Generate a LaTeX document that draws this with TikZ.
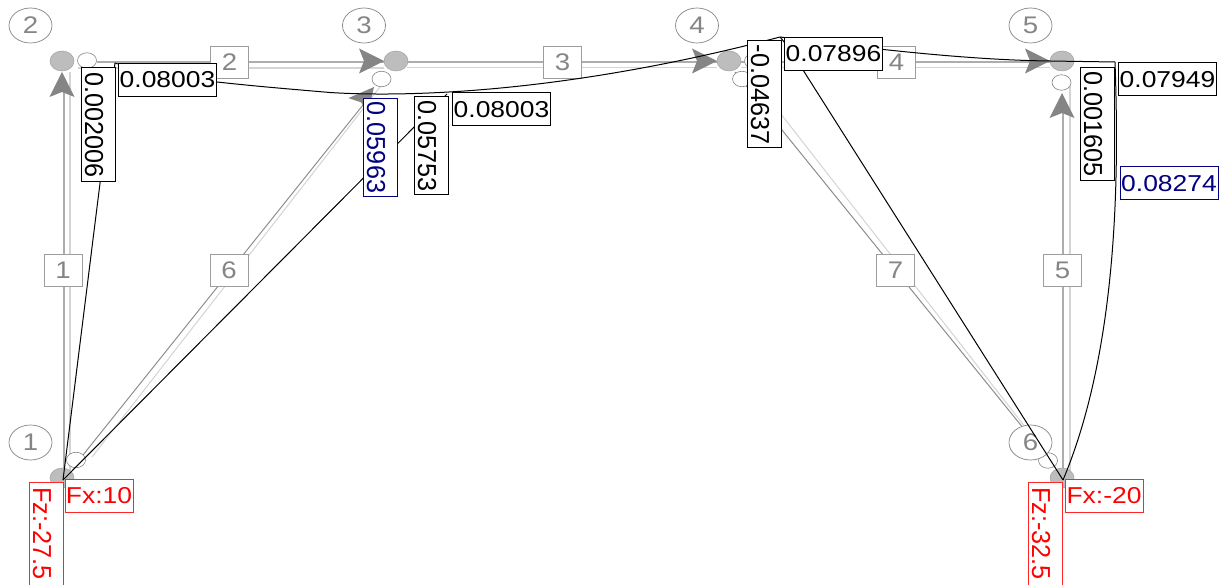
\documentclass[tikz,border=0pt]{standalone}
\usepackage{graphicx}
\usepackage{fontspec}
\setmainfont{Liberation Sans}
\usetikzlibrary{shapes.geometric}
\definecolor{memdark}{HTML}{ADADAD}
\definecolor{memlight}{HTML}{D4D4D4}
\definecolor{diag}{HTML}{8C8C8C}
\definecolor{numgray}{HTML}{858585}
\definecolor{nodegray}{HTML}{BDBDBD}
\definecolor{navyval}{HTML}{000080}
\newcommand{\wideh}[1]{\scalebox{1.15}[1]{\fontsize{23}{25}\selectfont #1}}
\newcommand{\widev}[1]{\raisebox{-13pt}[7pt][7pt]{\scalebox{0.97}[1]{\fontsize{26}{28}\selectfont #1}}}
\newcommand{\widen}[1]{\scalebox{1.15}[1]{\fontsize{24}{26}\selectfont #1}}
\newcommand{\garrow}[3]{\fill[arrowfill,shift={(#1,#2)},rotate=#3] (0,0)--(-25,-12.5)--(-20,0)--(-25,12.5)--cycle;}
\tikzset{
  memberdark/.style={draw=memdark,line width=2pt},
  memberlight/.style={draw=memlight,line width=1.5pt},
  diagthin/.style={draw=diag,line width=1pt},
  diaglight/.style={draw=memlight,line width=1pt},
  arrowfill/.style={fill=numgray},
  joint/.style={ellipse,draw=nodegray!85!black,line width=.5pt,fill=nodegray,minimum width=24pt,minimum height=20pt,inner sep=0pt},
  endmark/.style={ellipse,draw=numgray,line width=.6pt,fill=white,minimum width=19pt,minimum height=15.5pt,inner sep=0pt},
  jointnum/.style={ellipse,draw=numgray,line width=.7pt,fill=white,text=numgray,minimum width=43pt,minimum height=35pt,inner sep=0pt},
  membox/.style={rectangle,draw=numgray!80,line width=.8pt,fill=white,text=numgray,minimum width=38pt,minimum height=32pt,inner sep=0pt},
  hval/.style={rectangle,draw=black,line width=1pt,fill=white,text=black,minimum width=98pt,minimum height=33pt,inner sep=0pt},
  vval/.style={rectangle,rotate=-90,draw=black,line width=1pt,fill=white,text=black,minimum height=34pt,inner sep=0pt},
  blueedge/.style={draw=navyval,text=navyval},
  force/.style={rectangle,draw=red!85,line width=1pt,fill=white,text=red,minimum height=33pt,inner sep=0pt},
  curveline/.style={draw=black,line width=1pt},
}
\begin{document}
\begin{tikzpicture}[x=1pt,y=-1pt]
\useasboundingbox (0,0) rectangle (1230,585);
% joint positions
\coordinate (p1) at (62,478);
\coordinate (p2) at (62,61);
\coordinate (p3) at (396,61);
\coordinate (p4) at (729,61);
\coordinate (p5) at (1062,61);
\coordinate (p6) at (1062,478);
% member ends
\coordinate (m1a) at (63.5,478); \coordinate (m1b) at (63.5,90);
\coordinate (m1c) at (70,478);   \coordinate (m1d) at (70,72);
\coordinate (m2a) at (97,62);    \coordinate (m2b) at (384,62);
\coordinate (m2c) at (78,68);    \coordinate (m2d) at (384,68);
\coordinate (m3a) at (407,62);   \coordinate (m3b) at (717,62);
\coordinate (m3c) at (407,67.5); \coordinate (m3d) at (717,67.5);
\coordinate (m4a) at (741,62);   \coordinate (m4b) at (1050,62);
\coordinate (m4c) at (741,67.5); \coordinate (m4d) at (1050,67.5);
\coordinate (m5a) at (1063,478); \coordinate (m5b) at (1063,110);
\coordinate (m5c) at (1070,478); \coordinate (m5d) at (1070,85);
\coordinate (m6a) at (83,455);   \coordinate (m6b) at (367,100);
\coordinate (m6c) at (92,457);   \coordinate (m6d) at (380,87);
\coordinate (m7a) at (735,72);   \coordinate (m7b) at (1045,455);
\coordinate (m7c) at (752,77);   \coordinate (m7d) at (1047,455);
% members
\draw[memberdark] (m1a) -- (m1b);
\draw[memberlight] (m1c) -- (m1d);
\draw[memberdark] (m2a) -- (m2b);
\draw[memberlight] (m2c) -- (m2d);
\draw[memberdark] (m3a) -- (m3b);
\draw[memberlight] (m3c) -- (m3d);
\draw[memberdark] (m4a) -- (m4b);
\draw[memberlight] (m4c) -- (m4d);
\draw[memberdark] (m5a) -- (m5b);
\draw[memberlight] (m5c) -- (m5d);
\draw[diagthin] (m6a) -- (m6b);
\draw[diaglight] (m6c) -- (m6d);
\draw[diagthin] (m7a) -- (m7b);
\draw[diaglight] (m7c) -- (m7d);
% arrowheads
\garrow{62}{72}{90}
\garrow{384}{61}{0}
\garrow{717}{61}{0}
\garrow{1050}{61}{0}
\garrow{1062}{93}{90}
\garrow{374}{87}{50}
% joints
\node[joint] (J1) at (p1) {};
\node[joint] (J2) at (p2) {};
\node[joint] (J3) at (p3) {};
\node[joint] (J4) at (p4) {};
\node[joint] (J5) at (p5) {};
\node[joint] (J6) at (p6) {};
% member-end marks
\node[endmark] (E1) at (87,60.5) {};
\node[endmark] (E2) at (381.5,79) {};
\node[endmark] (E3) at (742,79) {};
\node[endmark] (E4) at (754,61) {};
\node[endmark] (E5) at (1061.5,82.5) {};
\node[endmark] (E6) at (76,460) {};
\node[endmark] (E7) at (1048,460.5) {};
% joint numbers
\node[jointnum] (N1) at (30.5,442.5) {\widen{1}};
\node[jointnum] (N2) at (30.5,25.5) {\widen{2}};
\node[jointnum] (N3) at (364,25.5) {\widen{3}};
\node[jointnum] (N4) at (697,25.5) {\widen{4}};
\node[jointnum] (N5) at (1030.5,25.5) {\widen{5}};
\node[jointnum] (N6) at (1030.5,442.5) {\widen{6}};
% member numbers
\node[membox] (B1) at (63,270.5) {\widen{1}};
\node[membox] (B2) at (229.5,62) {\widen{2}};
\node[membox] (B3) at (562.5,62) {\widen{3}};
\node[membox] (B4) at (896.5,62) {\widen{4}};
\node[membox] (B5) at (1062.5,270.5) {\widen{5}};
\node[membox] (B6) at (229,270.5) {\widen{6}};
\node[membox] (B7) at (895.5,270.5) {\widen{7}};
% moment-diagram lines
\coordinate (b1) at (63,480);
\coordinate (b6) at (1063,480);
\coordinate (c2) at (115,63);
\coordinate (c3) at (447,94);
\coordinate (c4) at (780,37);
\coordinate (c5) at (1115,62);
\draw[curveline] (b1) -- (c2);
\draw[curveline] (b1) -- (c3);
\draw[curveline] (c2) .. controls (160,78) and (230,84) .. (330,92.5) .. controls (400,97) and (560,95) .. (c4);
\draw[curveline] (c4) -- (785,43);
\draw[curveline] (c4) .. controls (850,46) and (960,60) .. (1050,61) -- (c5);
\draw[curveline] (c5) .. controls (1118,150) and (1122,340) .. (b6);
\draw[curveline] (803,70) -- (b6);
% values
\node[hval] (V1) at (167.5,80) {\wideh{0.08003}};
\node[hval] (V2) at (501.5,109.5) {\wideh{0.08003}};
\node[hval] (V3) at (833.5,54) {\wideh{0.07896}};
\node[hval] (V4) at (1167.5,79.5) {\wideh{0.07949}};
\node[hval,blueedge] (V5) at (1169,183.5) {\wideh{0.08274}};
\node[vval,minimum width=114pt] (W1) at (98,125) {\widev{0.002006}};
\node[vval,minimum width=98pt,blueedge] (W2) at (380,147.5) {\widev{0.05963}};
\node[vval,minimum width=98pt] (W3) at (431,146) {\widev{0.05753}};
\node[vval,minimum width=107pt] (W4) at (764,94.5) {\widev{-0.04637}};
\node[vval,minimum width=113pt] (W5) at (1097,124) {\widev{0.001605}};
% reactions
\node[force,minimum width=68pt] (F1) at (99,495.5) {\wideh{Fx:10}};
\node[force,minimum width=78pt] (F2) at (1104,495.5) {\wideh{Fx:-20}};
\node[force,rotate=-90,minimum width=103pt,minimum height=34pt] (F3) at (46,533.5) {\widev{Fz:-27.5}};
\node[force,rotate=-90,minimum width=103pt,minimum height=34pt] (F4) at (1045,533.5) {\widev{Fz:-32.5}};
\end{tikzpicture}
\end{document}
